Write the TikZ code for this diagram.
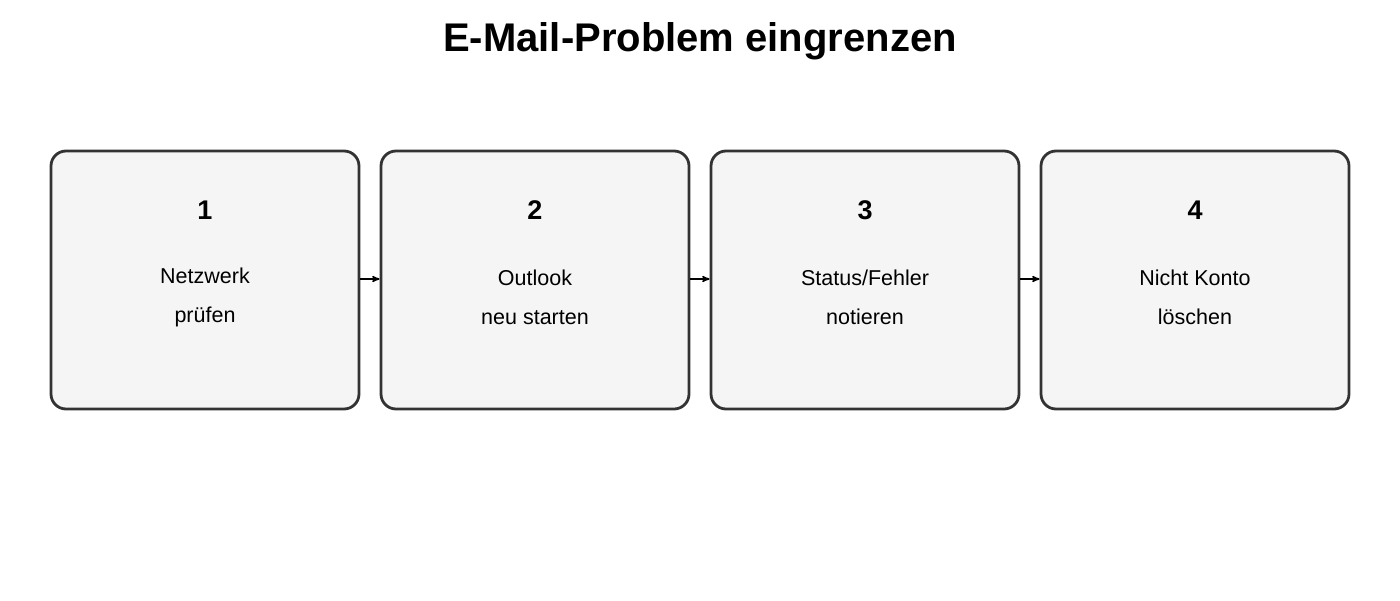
\documentclass[tikz,border=0pt]{standalone}
\usepackage{fontspec}
\setmainfont{Liberation Sans}
\usetikzlibrary{arrows}

\begin{document}
\begin{tikzpicture}[x=1pt,y=-1pt,->,>=stealth',
  step node/.style={rectangle,rounded corners=15pt,draw=black!80,fill=black!4,
    line width=2.8pt,minimum width=308pt,minimum height=258pt,inner sep=0pt},
  num node/.style={font=\fontsize{27}{32}\selectfont\bfseries},
  text node/.style={align=center,font=\fontsize{21.5}{39}\selectfont}]

  \useasboundingbox (0,0) rectangle (1400,600);
  \node[font=\fontsize{40}{46}\selectfont\bfseries] (title) at (700,41) {E-Mail-Problem eingrenzen};

  \node[step node] (1) at (205,280) {};
  \node[step node] (2) at (535,280) {};
  \node[step node] (3) at (865,280) {};
  \node[step node] (4) at (1195,280) {};

  \node[num node] (n1) at (205,210) {1};
  \node[num node] (n2) at (535,210) {2};
  \node[num node] (n3) at (865,210) {3};
  \node[num node] (n4) at (1195,210) {4};

  \node[text node] (t1) at (205,297) {Netzwerk\\prüfen};
  \node[text node] (t2) at (535,297) {Outlook\\neu starten};
  \node[text node] (t3) at (865,297) {Status/Fehler\\notieren};
  \node[text node] (t4) at (1195,297) {Nicht Konto\\löschen};

  \path[line width=1.5pt]
    (1.east |- 0,279) edge (2.west |- 0,279)
    (2.east |- 0,279) edge (3.west |- 0,279)
    (3.east |- 0,279) edge (4.west |- 0,279)
    ;

\end{tikzpicture}
\end{document}
